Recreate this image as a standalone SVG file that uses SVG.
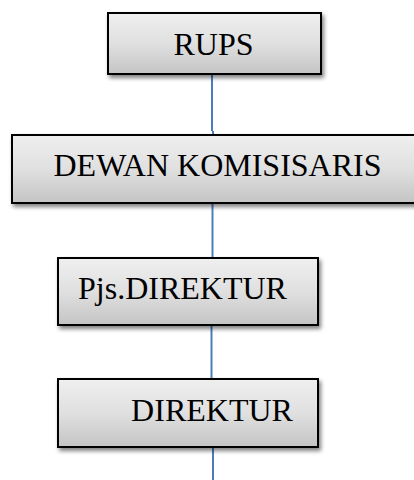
<svg xmlns="http://www.w3.org/2000/svg" width="414" height="480" viewBox="0 0 414 480">
<defs>
<linearGradient id="g" x1="0" y1="0" x2="0" y2="1">
<stop offset="0" stop-color="#efefef"/>
<stop offset="0.5" stop-color="#e0e0e0"/>
<stop offset="1" stop-color="#c4c4c4"/>
</linearGradient>
<filter id="sh" x="-10%" y="-20%" width="130%" height="150%">
<feGaussianBlur in="SourceAlpha" stdDeviation="2"/>
<feOffset dx="2" dy="3" result="b"/>
<feComponentTransfer><feFuncA type="linear" slope="0.5"/></feComponentTransfer>
<feMerge><feMergeNode/><feMergeNode in="SourceGraphic"/></feMerge>
</filter>
</defs>
<style>
.box{fill:url(#g);stroke:#000;stroke-width:2;filter:url(#sh)}
.t{font-family:"Liberation Serif","Times New Roman",serif;font-size:32px;fill:#000}
.c{stroke:#4a7ebb;stroke-width:2;fill:none}
</style>
<rect width="414" height="480" fill="#fff"/>
<g id="connectors">
<path class="c" d="M212 74 V131 M213 131 V135"/>
<path class="c" d="M212.5 203 V258"/>
<path class="c" d="M211.5 326 V379"/>
<path class="c" d="M213 447 V480"/>
</g>
<g id="rups">
<rect class="box" x="108" y="13" width="213" height="61"/>
<text class="t" x="213.5" y="55" text-anchor="middle">RUPS</text>
</g>
<g id="dewan">
<rect class="box" x="12" y="135" width="406" height="68"/>
<text class="t" x="217.5" y="176" text-anchor="middle">DEWAN KOMISISARIS</text>
</g>
<g id="pjs">
<rect class="box" x="58" y="258" width="260" height="67"/>
<text class="t" x="78" y="299">Pjs.DIREKTUR</text>
</g>
<g id="direktur">
<rect class="box" x="58" y="379" width="260" height="68"/>
<text class="t" x="212" y="421" text-anchor="middle">DIREKTUR</text>
</g>
</svg>
